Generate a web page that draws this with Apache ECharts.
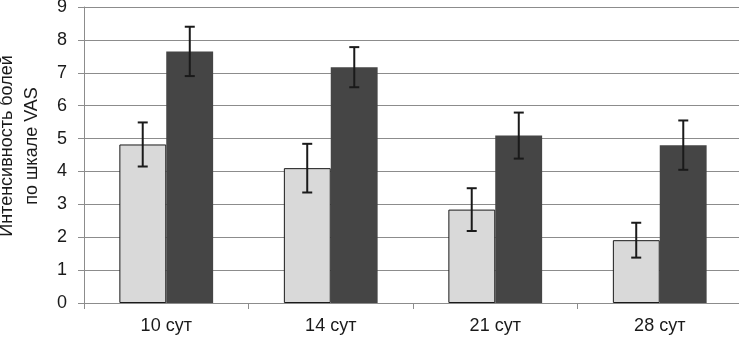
<!DOCTYPE html>
<html>
<head>
<meta charset="utf-8">
<script src="https://cdn.jsdelivr.net/npm/echarts@6/dist/echarts.min.js"></script>
<style>html,body{margin:0;padding:0;background:#fff}#c{width:739px;height:347px}</style>
</head>
<body>
<div id="c"></div>
<script>
const categories = ['10 сут', '14 сут', '21 сут', '28 сут'];
const lightValues = [4.82, 4.10, 2.84, 1.91];
const lightErr = [0.67, 0.74, 0.65, 0.53];
const darkValues = [7.65, 7.17, 5.09, 4.80];
const darkErr = [0.75, 0.61, 0.70, 0.75];
const yTicks = [0, 1, 2, 3, 4, 5, 6, 7, 8, 9];

const FONT = 'Liberation Sans';
const chart = echarts.init(document.getElementById('c'), null, {renderer: 'canvas'});

function errSeries(vals, errs, side) {
  return {
    type: 'custom',
    z: 10,
    data: vals.map((v, i) => [i, v, errs[i]]),
    renderItem: function (params, api) {
      const i = api.value(0), v = api.value(1), e = api.value(2);
      const band = api.size([1, 0])[0];
      const off = side * band * 0.143;
      const top = api.coord([i, v + e]);
      const bot = api.coord([i, v - e]);
      const x = top[0] + off;
      const cw = 5;
      const st = {stroke: '#1a1a1a', lineWidth: 2};
      return {
        type: 'group',
        children: [
          {type: 'line', shape: {x1: x, y1: top[1], x2: x, y2: bot[1]}, style: st},
          {type: 'line', shape: {x1: x - cw, y1: top[1], x2: x + cw, y2: top[1]}, style: st},
          {type: 'line', shape: {x1: x - cw, y1: bot[1], x2: x + cw, y2: bot[1]}, style: st}
        ]
      };
    }
  };
}

chart.setOption({
  animation: false,
  grid: {left: 84, top: 7, width: 658, bottom: 44, containLabel: false, outerBoundsMode: 'none'},
  xAxis: {
    type: 'category',
    data: categories,
    axisLine: {lineStyle: {color: '#8c8c8c', width: 1}},
    axisTick: {show: true, length: 6, inside: false, lineStyle: {color: '#8c8c8c'}},
    axisLabel: {fontFamily: FONT, fontSize: 18, color: '#1a1a1a', margin: 14}
  },
  yAxis: {
    type: 'value',
    min: yTicks[0],
    max: yTicks[yTicks.length - 1],
    interval: 1,
    name: 'Интенсивность болей\nпо шкале VAS',
    nameLocation: 'middle',
    nameRotate: 90,
    nameGap: 39,
    nameTextStyle: {fontFamily: FONT, fontSize: 18, color: '#1a1a1a', lineHeight: 25, padding: [0, 0, 0, 18]},
    axisLine: {show: true, lineStyle: {color: '#8c8c8c', width: 1}},
    axisTick: {show: true, length: 6, lineStyle: {color: '#8c8c8c'}},
    axisLabel: {fontFamily: FONT, fontSize: 18, color: '#1a1a1a', margin: 17},
    splitLine: {lineStyle: {color: '#8c8c8c', width: 1}}
  },
  series: [
    {
      type: 'bar',
      data: lightValues,
      barGap: '0%',
      barCategoryGap: '43%',
      itemStyle: {color: '#d9d9d9', borderColor: '#1a1a1a', borderWidth: 1}
    },
    {
      type: 'bar',
      data: darkValues,
      itemStyle: {color: '#454545'}
    },
    errSeries(lightValues, lightErr, -1),
    errSeries(darkValues, darkErr, 1)
  ]
});
</script>
</body>
</html>
